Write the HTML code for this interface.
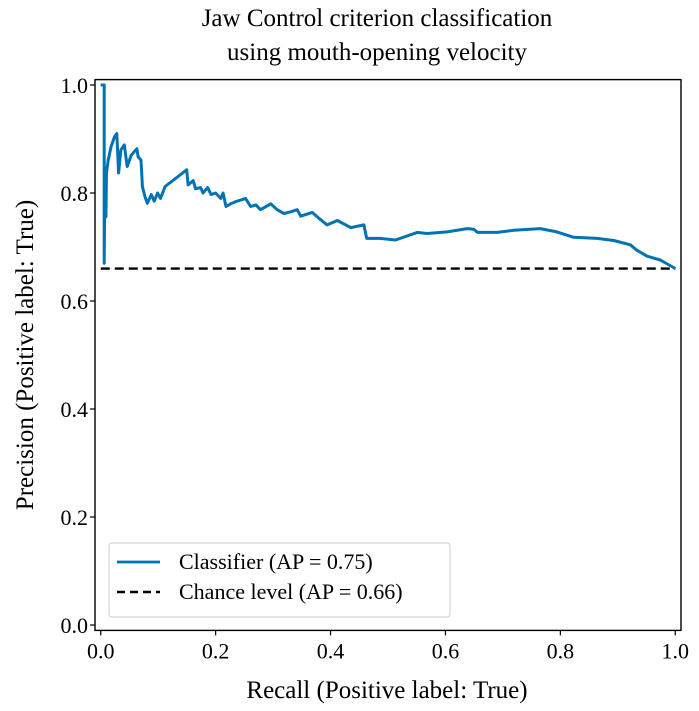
<!DOCTYPE html>
<html><head><meta charset="utf-8"><style>
body{margin:0;background:#fff}
svg{display:block;font-family:"Liberation Serif",serif}
</style></head><body>
<svg id="chart" width="699" height="711">
<text x="377" y="26" font-size="25" text-anchor="middle">Jaw Control criterion classification</text>
<text x="377" y="60" font-size="25" text-anchor="middle">using mouth-opening velocity</text>
<g id="plot"></g>
<text x="387" y="698" font-size="25" text-anchor="middle">Recall (Positive label: True)</text>
<text transform="translate(33,355) rotate(-90)" font-size="25" text-anchor="middle">Precision (Positive label: True)</text>
</svg>
<script>
const recall=[0,0.006,0.006,0.007,0.009,0.010,0.013,0.018,0.024,0.028,0.031,0.035,0.041,0.046,0.053,0.063,0.065,0.070,0.0725,0.077,0.081,0.088,0.093,0.099,0.104,0.112,0.1496,0.152,0.161,0.165,0.174,0.178,0.186,0.192,0.2,0.209,0.213,0.218,0.226,0.235,0.244,0.252,0.261,0.27,0.278,0.296,0.307,0.319,0.33,0.342,0.348,0.368,0.38,0.394,0.412,0.435,0.458,0.463,0.487,0.513,0.551,0.568,0.603,0.638,0.649,0.656,0.69,0.719,0.765,0.794,0.823,0.864,0.893,0.922,0.933,0.951,0.974,0.997,1.0];
const precision=[1,1,0.67,0.805,0.756,0.837,0.861,0.886,0.904,0.910,0.837,0.88,0.889,0.849,0.87,0.882,0.867,0.861,0.812,0.793,0.781,0.797,0.785,0.80,0.79,0.812,0.843,0.815,0.823,0.808,0.81,0.80,0.81,0.797,0.80,0.79,0.80,0.775,0.78,0.784,0.787,0.79,0.775,0.778,0.769,0.78,0.769,0.762,0.765,0.769,0.757,0.764,0.753,0.741,0.749,0.736,0.741,0.716,0.716,0.713,0.727,0.725,0.728,0.734,0.733,0.727,0.727,0.731,0.734,0.728,0.718,0.716,0.712,0.704,0.694,0.683,0.676,0.662,0.66];
const chance=[0.66];
const xTicks=[0,0.2,0.4,0.6,0.8,1.0];
const yTicks=[0,0.2,0.4,0.6,0.8,1.0];
const legendLabels=["Classifier (AP = 0.75)","Chance level (AP = 0.66)"];

const NS="http://www.w3.org/2000/svg";
const X0=95,X1=681,Y0=79.6,Y1=630.4;
const xs=v=>X0+(v+0.01)/1.02*(X1-X0);
const ys=v=>Y1-(v+0.01)/1.02*(Y1-Y0);
const g=document.getElementById('plot');
function el(t,a){const e=document.createElementNS(NS,t);for(const k in a)e.setAttribute(k,a[k]);g.appendChild(e);return e;}

const cl=el('line',{x1:xs(0),x2:xs(1),y1:ys(chance[0]),y2:ys(chance[0]),stroke:'#000','stroke-width':2.4,'stroke-dasharray':'9 5'});



let d=recall.map((r,i)=>(i?'L':'M')+xs(r).toFixed(1)+' '+ys(precision[i]).toFixed(1)).join('');
const pl=el('path',{d:d,fill:'none',stroke:'#0173b2','stroke-width':3,'stroke-linejoin':'round'});



const fr=el('rect',{x:X0,y:Y0,width:X1-X0,height:Y1-Y0,fill:'none',stroke:'#000','stroke-width':1.4});



xTicks.forEach(v=>{
  const t=el('line',{x1:xs(v),x2:xs(v),y1:Y1,y2:Y1+5,stroke:'#000','stroke-width':1.2});
  
  
  const l=el('text',{x:xs(v),y:Y1+28,'font-size':22,'text-anchor':'middle'});
  l.textContent=v.toFixed(1);
  
  
});
yTicks.forEach(v=>{
  const t=el('line',{x1:X0-5,x2:X0,y1:ys(v),y2:ys(v),stroke:'#000','stroke-width':1.2});
  
  
  const l=el('text',{x:X0-7,y:ys(v)+8,'font-size':22,'text-anchor':'end'});
  l.textContent=v.toFixed(1);
  
  
});

const lb=el('rect',{x:109,y:543,width:341,height:74,rx:3,fill:'#fff',stroke:'#ccc','stroke-width':1});


const l1=el('line',{x1:117,x2:160,y1:562,y2:562,stroke:'#0173b2','stroke-width':2.8});


const l2=el('line',{x1:117,x2:160,y1:592,y2:592,stroke:'#000','stroke-width':2.4,'stroke-dasharray':'8 5'});


legendLabels.forEach((s,i)=>{
  const t=el('text',{x:179,y:569+i*30,'font-size':22});
  t.textContent=s;
  
  
});
</script>
</body></html>
